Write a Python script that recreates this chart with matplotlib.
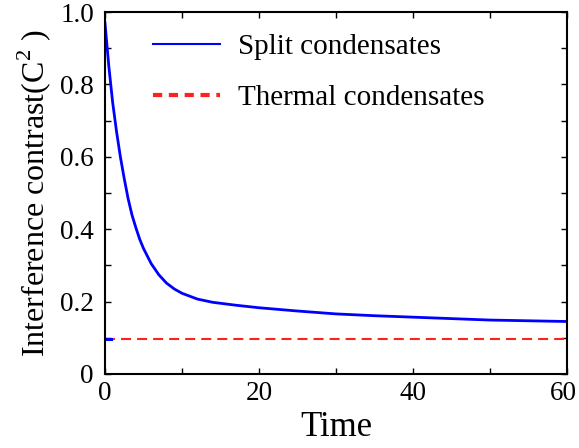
import matplotlib
matplotlib.use('Agg')
import matplotlib.pyplot as plt
import matplotlib.transforms as mtransforms
from matplotlib.lines import Line2D
from matplotlib.ticker import MultipleLocator

plt.rcParams['font.family'] = ['Liberation Serif', 'DejaVu Serif']
plt.rcParams['mathtext.fontset'] = 'custom'
plt.rcParams['mathtext.rm'] = 'Liberation Serif'

# values
time_split = [0, 0.5, 1.0, 1.5, 2.0, 2.5, 3.0, 3.5, 4.0, 4.5, 5.0, 6.0,
              7.0, 8.0, 9.0, 10, 12, 14, 17, 20, 25, 30, 35, 40, 45, 50,
              55, 60]
contrast_split = [0.97, 0.85, 0.75, 0.67, 0.60, 0.54, 0.485, 0.44, 0.405,
                  0.373, 0.347, 0.305, 0.274, 0.251, 0.235, 0.223, 0.207,
                  0.198, 0.19, 0.183, 0.174, 0.166, 0.161, 0.157, 0.153,
                  0.149, 0.147, 0.145]
time_stub = [0, 0.8]
contrast_stub = [0.096, 0.096]
time_thermal = [0, 60]
contrast_thermal = [0.096, 0.096]
x_ticks = [0, 20, 40, 60]
y_ticks = [0, 0.2, 0.4, 0.6, 0.8, 1.0]
y_tick_labels = ['0', '0.2', '0.4', '0.6', '0.8', '1.0']

fig = plt.figure(figsize=(5.79, 4.48), dpi=100)
ax = fig.add_axes([0.1813, 0.1652, 0.7977, 0.808])

ax.plot(time_thermal, contrast_thermal, color='#ff2020', linewidth=1.5,
        dashes=(4.8, 2.9))
ax.plot(time_stub, contrast_stub, color='#0000ff', linewidth=2.2)
ax.plot(time_split, contrast_split, color='#0000ff', linewidth=2.0)

ax.set_xlim(0, 60)
ax.set_ylim(0, 1.0)
ax.set_xticks(x_ticks)
ax.xaxis.set_minor_locator(MultipleLocator(10))
ax.yaxis.set_minor_locator(MultipleLocator(0.1))
ax.set_yticks(y_ticks)
ax.set_yticklabels(y_tick_labels)

ax.tick_params(which='both', direction='in', top=True, right=True,
               length=4, width=1.0, labelsize=19.5)
ax.tick_params(axis='x', pad=5)
ax.tick_params(axis='y', pad=8)
for sp in ax.spines.values():
    sp.set_linewidth(1.5)

# keep the last x label inside the canvas
last = ax.get_xticklabels()[-1]
last.set_transform(last.get_transform() +
                   mtransforms.ScaledTranslation(-3 / 100, 0, fig.dpi_scale_trans))

ax.set_xlabel('Time', fontsize=25, labelpad=4)
ax.set_ylabel(r'Interference contrast(C$^{2}$ )', fontsize=23, labelpad=5)

handles = [Line2D([], [], color='#0000ff', linewidth=1.5),
           Line2D([], [], color='#ff2020', linewidth=3.0, dashes=(2.2, 1.6))]
ax.legend(handles, ['Split condensates', 'Thermal condensates'],
          loc='upper left', bbox_to_anchor=(0.104, 0.94), frameon=False,
          fontsize=21, handlelength=2.3, handletextpad=0.62,
          labelspacing=0.84, borderpad=0, borderaxespad=0)

fig.savefig('out.png', dpi=100, facecolor='white')
